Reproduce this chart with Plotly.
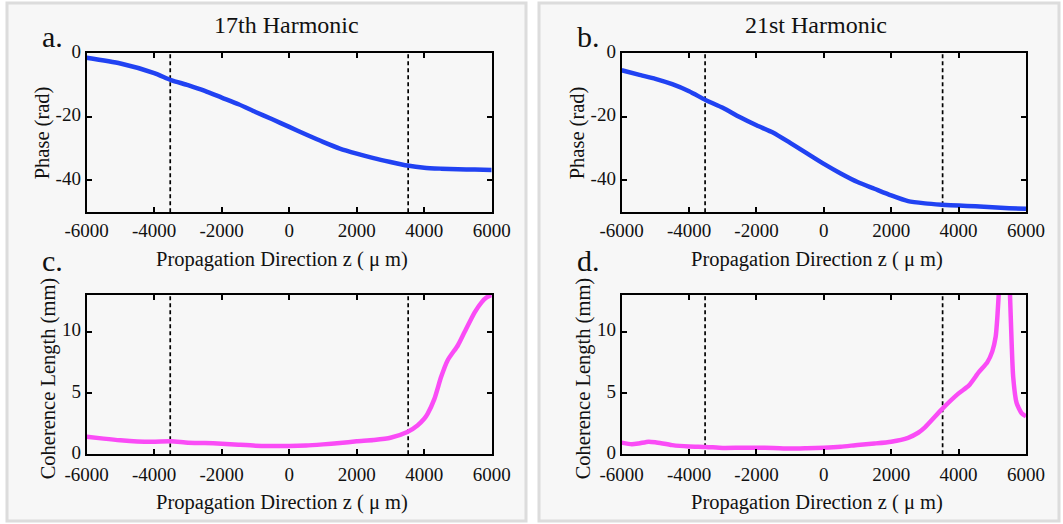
import plotly.graph_objects as go

# ---- data ---------------------------------------------------------------
z_phase17 = [-6000, -5000, -4000, -3500, -3000, -2500, -2000, -1500, -1000, -500, 0,
             500, 1000, 1500, 2000, 2500, 3000, 3500, 4000, 4500, 5000, 5500, 6000]
phase17 = [-1.5, -3.3, -6.3, -8.5, -10.1, -11.9, -14.0, -16.1, -18.5, -20.8, -23.2,
           -25.6, -27.9, -30.0, -31.6, -33.0, -34.2, -35.3, -36.0, -36.3, -36.5, -36.6, -36.7]

z_phase21 = [-6000, -5500, -5000, -4500, -4000, -3500, -3000, -2500, -2000, -1500, -1000,
             -500, 0, 500, 1000, 1500, 2000, 2500, 3000, 3500, 4000, 4500, 5000, 5500, 6000]
phase21 = [-5.4, -6.8, -8.1, -9.8, -12.0, -14.8, -17.2, -20.1, -22.7, -25.0, -28.2,
           -31.5, -34.8, -37.8, -40.5, -42.6, -44.7, -46.5, -47.2, -47.6, -47.9, -48.1, -48.4, -48.7, -48.9]

z_coh17 = [-6000, -5500, -5000, -4500, -4000, -3500, -3000, -2500, -2000, -1500, -1000, -500,
           0, 500, 1000, 1500, 2000, 2500, 3000, 3500, 3800, 4000, 4100, 4300, 4500, 4700,
           5000, 5200, 5500, 5700, 5850, 6000]
coh17 = [1.44, 1.28, 1.14, 1.05, 1.03, 1.06, 0.95, 0.92, 0.87, 0.78, 0.70, 0.68,
         0.68, 0.72, 0.81, 0.92, 1.06, 1.17, 1.35, 1.82, 2.36, 2.9, 3.3, 4.5, 6.3, 7.7,
         8.9, 10.0, 11.6, 12.4, 12.8, 13.0]

z_coh21 = [-6000, -5700, -5500, -5200, -5000, -4500, -4000, -3500, -3000, -2500, -2000, -1500,
           -1000, -500, 0, 500, 1000, 1500, 2000, 2500, 2800, 3000, 3500, 4000, 4300, 4600,
           4850, 5000, 5100, 5150, 5200, 5300, 5350, 5450, 5525, 5575, 5620, 5720, 5870, 6000]
coh21 = [0.95, 0.82, 0.88, 1.03, 0.98, 0.75, 0.64, 0.60, 0.52, 0.53, 0.54, 0.52,
         0.47, 0.50, 0.54, 0.62, 0.76, 0.88, 1.03, 1.35, 1.76, 2.2, 3.67, 4.97, 5.6, 6.7,
         7.5, 8.4, 9.6, 11.2, 13.5, 18.0, 22.0, 18.0, 13.0, 9.0, 6.3, 4.2, 3.35, 3.1]

interaction_bounds = [-3525, 3525]          # dashed markers of the interaction region
x_ticks = [-6000, -4000, -2000, 0, 2000, 4000, 6000]
x_ticktext = ["-6000", "-4000", "-2000", "0", "2000", "4000", "6000"]
phase_ticks = [0, -20, -40]
phase_ticktext = ["0", "-20", "-40"]
coh_ticks = [0, 5, 10]
coh_ticktext = ["0", "5", "10"]
phase_range = [-50, 0]
coh_range = [0, 13]

harmonic_titles = ["17th Harmonic", "21st Harmonic"]
panel_letters = ["a.", "b.", "c.", "d."]
x_title = "Propagation Direction z ( \u03bc m)"
phase_title = "Phase (rad)"
coh_title = "Coherence Length (mm)"

# ---- geometry -----------------------------------------------------------
W, H = 1063, 524
FONT = "Liberation Serif"
BLUE = "#2142f2"
MAGENTA = "#fa4cf6"
TEXT = "#111111"


def px(x):
    return x / W


def py(y):
    return 1 - y / H


col_px = [(86.7, 491.7), (621.7, 1026.0)]
row_px = [(53.0, 212.3), (295.0, 454.3)]
title_x = [286, 816]
xlabel_x = [281.5, 817]

fig = go.Figure()

panels = [
    # (row, col, z, values, colour, yrange, yticks, yticktext)
    (0, 0, z_phase17, phase17, BLUE, phase_range, phase_ticks, phase_ticktext),
    (0, 1, z_phase21, phase21, BLUE, phase_range, phase_ticks, phase_ticktext),
    (1, 0, z_coh17, coh17, MAGENTA, coh_range, coh_ticks, coh_ticktext),
    (1, 1, z_coh21, coh21, MAGENTA, coh_range, coh_ticks, coh_ticktext),
]

axis_common = dict(
    showline=True, linewidth=2, linecolor="black", mirror="ticks",
    ticks="inside", ticklen=5, tickwidth=2, tickcolor="black",
    showgrid=False, zeroline=False, automargin=False, fixedrange=True,
    tickfont=dict(family=FONT, size=19, color=TEXT),
)

for i, (r, c, zs, vals, colour, yr, yt, ytt) in enumerate(panels):
    n = i + 1
    xa = "x" if n == 1 else f"x{n}"
    ya = "y" if n == 1 else f"y{n}"
    for b in interaction_bounds:
        fig.add_trace(go.Scatter(
            x=[b, b], y=yr, mode="lines", xaxis=xa, yaxis=ya,
            line=dict(color="black", width=1.7, dash="4px,3px"),
            showlegend=False, hoverinfo="skip"))
    fig.add_trace(go.Scatter(
        x=zs, y=vals, mode="lines", xaxis=xa, yaxis=ya,
        line=dict(color=colour, width=4.5, shape="spline", smoothing=0.6),
        showlegend=False))
    x0, x1 = col_px[c]
    y0, y1 = row_px[r]
    fig.layout[f"xaxis{'' if n == 1 else n}"] = dict(
        axis_common, domain=[px(x0), px(x1)], range=[-6000, 6000],
        tickvals=x_ticks, ticktext=x_ticktext, anchor=ya,
        ticklabelstandoff=0 if r == 0 else 2)
    fig.layout[f"yaxis{'' if n == 1 else n}"] = dict(
        axis_common, domain=[py(y1), py(y0)], range=yr,
        tickvals=yt, ticktext=ytt, anchor=xa, ticklabelstandoff=0,
        ticklabelshift=-2)

# ---- panel backgrounds --------------------------------------------------
for bx0, bx1 in [(7, 526), (539, 1059)]:
    fig.add_shape(type="rect", xref="paper", yref="paper",
                  x0=px(bx0), x1=px(bx1), y0=py(521), y1=py(3),
                  fillcolor="#f7f7f7", line=dict(color="#dcdcdc", width=3),
                  layer="below")

# ---- text ---------------------------------------------------------------
ann = []


def text(x, y, s, size, angle=0, xanchor="center"):
    ann.append(dict(x=px(x), y=py(y), xref="paper", yref="paper", text=s,
                    showarrow=False, textangle=angle, xanchor=xanchor, yanchor="middle",
                    font=dict(family=FONT, size=size, color=TEXT)))


for c in range(2):
    x0, x1 = col_px[c]
    text(title_x[c], 25, harmonic_titles[c], 24)
    text(xlabel_x[c], 259, x_title, 20.5)
    text(xlabel_x[c], 502, x_title, 20.5)
    text(x0 - 44, (row_px[0][0] + row_px[0][1]) / 2, phase_title, 20.5, angle=-90)
    text(x0 - 38, (row_px[1][0] + row_px[1][1]) / 2 + 4, coh_title, 20.5, angle=-90)
    text(x0 - 47, 36, panel_letters[c], 30, xanchor="left")
    text(x0 - 47, 260, panel_letters[c + 2], 30, xanchor="left")

fig.update_layout(
    width=W, height=H, margin=dict(l=0, r=0, t=0, b=0),
    paper_bgcolor="white", plot_bgcolor="rgba(0,0,0,0)",
    annotations=ann, showlegend=False,
)

fig.write_html("out.html")
